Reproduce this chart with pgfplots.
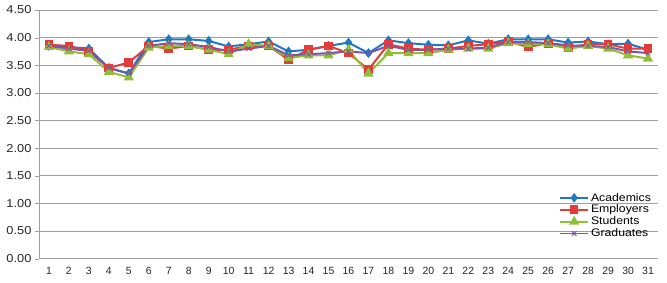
\documentclass[border=0pt]{standalone}
\usepackage{pgfplots}
\pgfplotsset{compat=1.18}
\usepackage{fontspec}
\setmainfont{Liberation Sans}
\newfontfamily\widefont[FakeStretch=1.12]{Liberation Sans}
\definecolor{cA}{RGB}{30,120,195}
\definecolor{cE}{RGB}{228,60,58}
\definecolor{cS}{RGB}{145,190,55}
\definecolor{cG}{RGB}{125,85,170}
\definecolor{gridc}{RGB}{160,160,160}
\begin{document}
\begin{tikzpicture}
\begin{axis}[
  name=ax,
  scale only axis,
  width=620bp, height=249bp,
  xmin=0.5, xmax=31.5, ymin=0, ymax=4.5,
  axis lines=left,
  axis line style={-, draw=gridc, line width=0.8pt},
  xtick={1,...,31},
  major x tick style={draw=none},
  extra x ticks={0.5,1.5,...,31.5},
  extra x tick labels={},
  extra x tick style={major tick length=4bp, tick align=outside, tick style={draw=gridc}},
  ytick={0,0.5,...,4.5},
  yticklabel style={/pgf/number format/fixed, /pgf/number format/fixed zerofill, /pgf/number format/precision=2},
  /pgf/number format/assume math mode=true,
  ymajorgrids,
  grid style={draw=gridc, line width=0.6pt},
  major y tick style={draw=gridc},
  tick align=outside, major tick length=4bp,
  yticklabel style={font=\widefont\fontsize{11.5}{13}\selectfont, text=black!85},
  xticklabel style={font=\fontsize{10.5}{12}\selectfont, text=black!85, yshift=-1bp},
  legend style={at={(0.997,0.065)}, anchor=south east, draw=none, fill=none,
    font=\widefont\fontsize{11}{11}\selectfont, row sep=-1.5pt, cells={anchor=west}},
  legend image code/.code={\draw[mark repeat=2, mark phase=2, #1] plot coordinates {(0bp,0bp) (14bp,0bp) (28bp,0bp)};},
  legend image post style={line width=1.8pt},
  legend cell align=left,
  every axis plot/.append style={line width=2pt},
]
\addplot[color=cA, mark=diamond*, mark size=3.4pt] coordinates {
(1,3.85)(2,3.83)(3,3.80)(4,3.45)(5,3.35)(6,3.92)(7,3.97)(8,3.97)(9,3.94)(10,3.84)
(11,3.88)(12,3.93)(13,3.75)(14,3.78)(15,3.85)(16,3.91)(17,3.72)(18,3.95)(19,3.90)(20,3.87)
(21,3.86)(22,3.95)(23,3.89)(24,3.97)(25,3.97)(26,3.97)(27,3.91)(28,3.93)(29,3.88)(30,3.89)(31,3.78)};
\addlegendentry{Academics}
\addplot[color=cE, mark=square*, mark size=3.4pt] coordinates {
(1,3.87)(2,3.85)(3,3.75)(4,3.45)(5,3.55)(6,3.85)(7,3.80)(8,3.85)(9,3.78)(10,3.78)
(11,3.85)(12,3.85)(13,3.60)(14,3.78)(15,3.85)(16,3.72)(17,3.42)(18,3.88)(19,3.80)(20,3.78)
(21,3.80)(22,3.85)(23,3.88)(24,3.93)(25,3.83)(26,3.90)(27,3.82)(28,3.88)(29,3.88)(30,3.80)(31,3.80)};
\addlegendentry{Employers}
\addplot[color=cS, mark=triangle*, mark size=4pt] coordinates {
(1,3.83)(2,3.75)(3,3.70)(4,3.38)(5,3.28)(6,3.82)(7,3.85)(8,3.85)(9,3.78)(10,3.70)
(11,3.88)(12,3.85)(13,3.63)(14,3.68)(15,3.68)(16,3.78)(17,3.35)(18,3.72)(19,3.72)(20,3.72)
(21,3.78)(22,3.80)(23,3.80)(24,3.90)(25,3.88)(26,3.88)(27,3.80)(28,3.85)(29,3.80)(30,3.68)(31,3.62)};
\addlegendentry{Students}
\addplot[color=cG, mark=x, mark size=3.2pt, mark options={line width=1pt}] coordinates {
(1,3.85)(2,3.80)(3,3.76)(4,3.45)(5,3.35)(6,3.85)(7,3.90)(8,3.88)(9,3.83)(10,3.75)
(11,3.80)(12,3.85)(13,3.68)(14,3.70)(15,3.72)(16,3.75)(17,3.72)(18,3.85)(19,3.78)(20,3.78)
(21,3.80)(22,3.80)(23,3.82)(24,3.92)(25,3.92)(26,3.90)(27,3.86)(28,3.85)(29,3.83)(30,3.75)(31,3.72)};
\addlegendentry{Graduates}
\end{axis}
\path (ax.north east) ++(9bp,10bp) coordinate (tr);
\path (tr);
\path (ax.south west) ++(-39bp,-24bp) coordinate (bl);
\path (bl);
\end{tikzpicture}
\end{document}
